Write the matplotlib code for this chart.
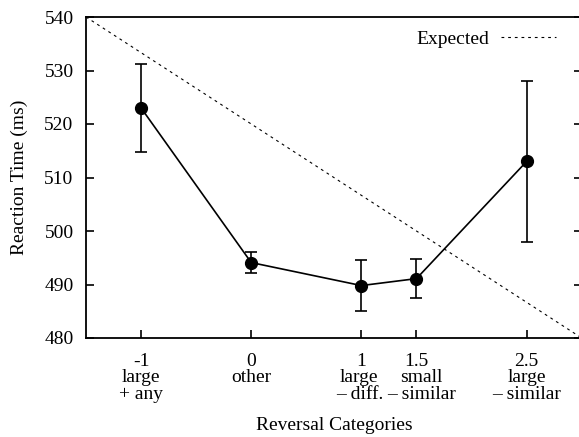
import numpy as np
import matplotlib
matplotlib.use("Agg")
import matplotlib.pyplot as plt

# reaction time per reversal category
categories = [-1, 0, 1, 1.5, 2.5]
tick_numbers = ["-1", "0", "1", "1.5", "2.5"]
descriptors = ["large\n+ any", "other", "large\n\u2013 diff.",
               "small\n\u2013 similar", "large\n\u2013 similar"]
rt_mean = [523.0, 494.1, 489.8, 491.1, 513.0]
rt_err = [8.3, 2.0, 4.8, 3.7, 15.0]

# expected trend (straight line over the whole range)
expected_x = [-1.5, 3.0]
expected_y = [540, 480]

plt.rcParams['font.family'] = ['Liberation Serif', 'DejaVu Serif']

fig = plt.figure(figsize=(5.79, 4.37), dpi=100)
ax = fig.add_axes([86 / 579, (437 - 338) / 437, (581.7 - 86) / 579, (338 - 17) / 437])

ax.plot(expected_x, expected_y, color='black', lw=0.8, linestyle=(0, (2.5, 3.5)),
        label='Expected')
ax.errorbar(categories, rt_mean, yerr=rt_err, color='black', lw=1.2,
            marker='o', markersize=8.5, capsize=4.5, capthick=1.2, elinewidth=1.2)

ax.set_xlim(-1.5, 3.0)
ax.set_ylim(480, 540)
ax.set_xticks(categories)
ax.set_xticklabels(tick_numbers, fontsize=14)
ax.set_yticks(np.arange(480, 541, 10))
ax.tick_params(axis='y', labelsize=14, direction='in', length=6, width=1.2,
               right=True, pad=9)
ax.tick_params(axis='x', direction='in', length=6, width=1.2, top=False, pad=11)
for s in ax.spines.values():
    s.set_linewidth(1.3)

# category names under the tick numbers (nudged apart where they crowd)
nudge = [0, 0, -2, 5, 0]
for x, txt, dx in zip(categories, descriptors, nudge):
    ax.annotate(txt, xy=(x, 0), xycoords=('data', 'axes fraction'),
                xytext=(dx * 0.72, -22.5), textcoords='offset points',
                ha='center', va='top', fontsize=14, linespacing=1.0)

ax.set_xlabel('Reversal Categories', fontsize=14, labelpad=10)
ax.xaxis.set_label_coords(0.5, -0.245)
ax.set_ylabel('Reaction Time (ms)', fontsize=14)
ax.yaxis.set_label_coords(-0.118, 0.5)

leg = ax.legend(loc='upper right', frameon=False, fontsize=14, handlelength=2.8,
                handletextpad=0.6, markerfirst=False, borderaxespad=0.3,
                bbox_to_anchor=(0.975, 1.0))

fig.savefig('out.png', dpi=100)
